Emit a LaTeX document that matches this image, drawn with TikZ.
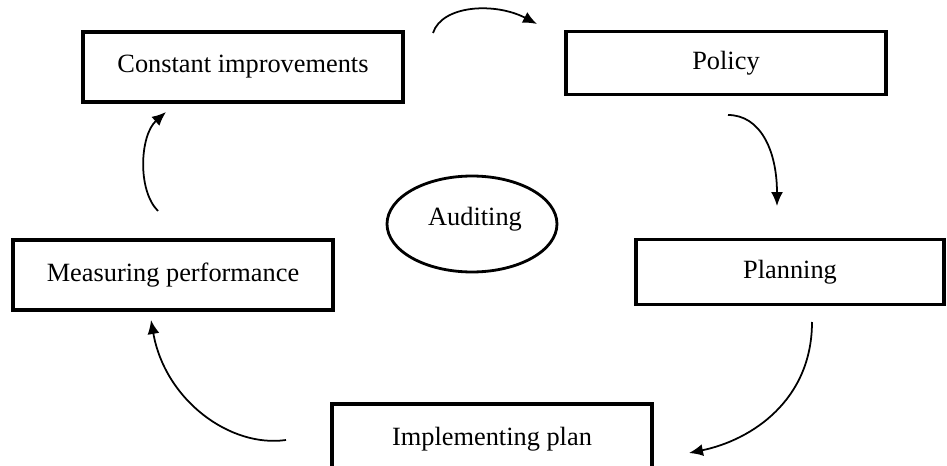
\documentclass[tikz,border=0pt]{standalone}
\usepackage{fontspec}
\setmainfont{Liberation Serif}
\usetikzlibrary{positioning,shapes.geometric,arrows.meta}

\begin{document}
\begin{tikzpicture}[x=0.02cm, y=-0.02cm,
    every node/.style={font=\fontsize{15}{18}\selectfont},
    caja/.style={draw, line width=2pt, minimum width=6.4cm, minimum height=1.4cm, inner sep=0pt},
    flecha/.style={line width=1pt, -{Latex[length=2.8mm,width=2.4mm]}}]
    % Marco del dibujo
    \useasboundingbox (0,0) rectangle (947,466);
    \clip (0,0) rectangle (947,466);

    % Cajas del ciclo
    \node[caja] (mejora) at (243,67) {Constant improvements};
    \node[caja, minimum height=1.26cm] (politica) at (726,63) {Policy};
    \node[caja, minimum width=6.16cm, minimum height=1.3cm] (planificacion) at (790,272) {Planning};
    \node[caja] (implementacion) at (492,439) {Implementing plan};
    \node[caja] (medicion) at (173,275) {Measuring performance};

    % Elipse central
    \node[draw, ellipse, line width=1.6pt, minimum width=3.4cm, minimum height=1.92cm,
      inner sep=0pt] (auditoria) at (472,224) {};
    \node (auditoria-texto) at (475,219) {Auditing};

    % Extremos de las flechas
    \coordinate (s1) at (433,33);  \coordinate (e1) at (537,24);
    \coordinate (s2) at (728,115); \coordinate (e2) at (777,206);
    \coordinate (s3) at (812,322); \coordinate (e3) at (689,453);
    \coordinate (s4) at (286,440); \coordinate (e4) at (151,320);
    \coordinate (s5) at (158,211); \coordinate (e5) at (166,112);

    % Flechas curvas
    \draw[flecha] (s1) .. controls (442,5) and (495,2) .. (e1);
    \draw[flecha] (s2) .. controls (760,115) and (777,150) .. (e2);
    \draw[flecha] (s3) .. controls (812,400) and (752,440) .. (e3);
    \draw[flecha] (s4) .. controls (230,448) and (165,400) .. (e4);
    \draw[flecha] (s5) .. controls (137,190) and (140,135) .. (e5);
\end{tikzpicture}
\end{document}
